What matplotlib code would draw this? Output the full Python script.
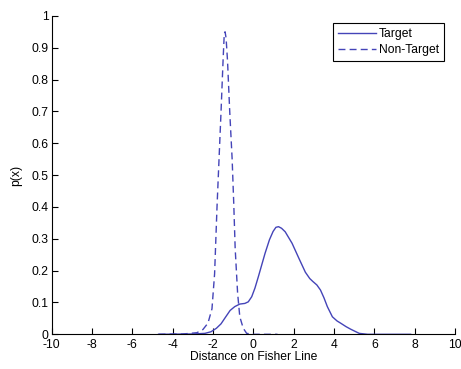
import numpy as np
from matplotlib import pyplot as plt

plt.rcParams['font.family'] = ['Liberation Sans', 'DejaVu Sans']
plt.rcParams['axes.unicode_minus'] = False

# Target class density
target_x = [-4.7, -3.0, -2.4, -2.1, -1.83, -1.6, -1.42, -1.15, -0.92, -0.67, -0.42, -0.25,
            -0.08, 0.08, 0.25, 0.58, 0.8, 0.98, 1.12, 1.25, 1.4, 1.58, 1.92, 2.25, 2.58,
            2.8, 2.95, 3.15, 3.33, 3.5, 3.67, 3.92, 4.15, 4.33, 4.6, 4.83, 5.25, 5.67,
            6.5, 7.8]
target_y = [0.0, 0.001, 0.003, 0.008, 0.019, 0.033, 0.05, 0.075, 0.087, 0.095, 0.097, 0.102,
            0.118, 0.145, 0.181, 0.254, 0.297, 0.323, 0.336, 0.338, 0.333, 0.322, 0.286,
            0.24, 0.195, 0.175, 0.166, 0.155, 0.139, 0.115, 0.087, 0.055, 0.042, 0.035,
            0.024, 0.016, 0.003, 0.0, 0.0, 0.0]

# Non-target class density
nontarget_x = [-4.7, -3.5, -2.8, -2.5, -2.25, -2.05, -1.92, -1.8, -1.7, -1.6, -1.5,
               -1.44, -1.4, -1.35, -1.28, -1.17, -1.05, -0.97, -0.9, -0.78, -0.67, -0.5,
               -0.33, 0.0, 1.2]
nontarget_y = [0.0, 0.001, 0.005, 0.015, 0.035, 0.08, 0.19, 0.40, 0.55, 0.70, 0.86,
               0.945, 0.95, 0.93, 0.86, 0.70, 0.55, 0.41, 0.27, 0.13, 0.055, 0.019,
               0.003, 0.0, 0.0]

line_color = '#4444b8'
fsize = 8.7

fig = plt.figure(figsize=(4.61, 3.69), dpi=100)
ax = fig.add_axes([0.112, 0.094, 0.875, 0.863])

ax.plot(target_x, target_y, '-', color=line_color, linewidth=1.0, label='Target')
ax.plot(nontarget_x, nontarget_y, '--', color=line_color, linewidth=1.0,
        dashes=(5, 3), label='Non-Target')

ax.set_xlim(-10, 10)
ax.set_ylim(0, 1)
ax.set_xticks(np.arange(-10, 11, 2))
ax.set_yticks(np.arange(0, 1.01, 0.1))
ax.set_yticklabels(['0', '0.1', '0.2', '0.3', '0.4', '0.5', '0.6', '0.7', '0.8', '0.9', '1'])
ax.tick_params(direction='in', labelsize=fsize, length=4, width=0.8)
ax.tick_params(axis='x', pad=3.5)
ax.tick_params(axis='y', pad=2)

ax.spines['top'].set_visible(False)
ax.spines['right'].set_visible(False)

ax.set_xlabel('Distance on Fisher Line', fontsize=fsize, labelpad=0)
ax.set_ylabel('p(x)', fontsize=fsize, labelpad=7)

leg = ax.legend(loc='upper right', fontsize=fsize, handlelength=3.15, handletextpad=0.2,
                borderpad=0.45, labelspacing=0.3, fancybox=False, framealpha=1,
                borderaxespad=0, bbox_to_anchor=(0.973, 0.978))
leg.get_frame().set_edgecolor('black')
leg.get_frame().set_linewidth(0.8)

plt.savefig('out.png', dpi=100)
